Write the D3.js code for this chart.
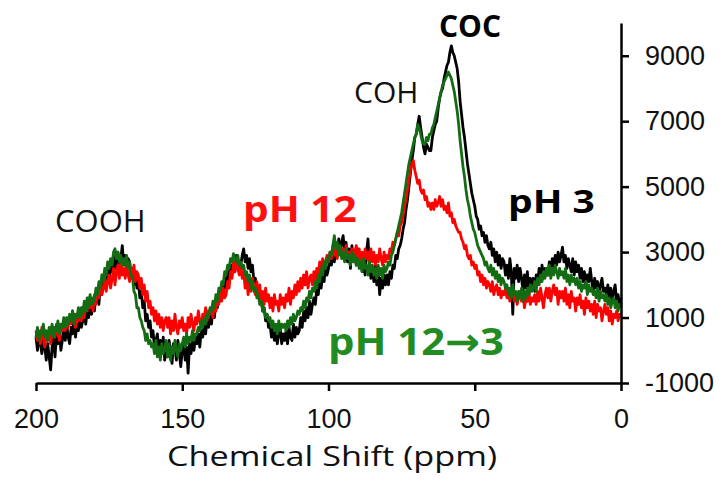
<!DOCTYPE html>
<html>
<head>
<meta charset="utf-8">
<script src="https://cdn.jsdelivr.net/npm/d3@7"></script>
<style>
  html, body { margin: 0; padding: 0; background: #fff; }
  svg { display: block; }
</style>
</head>
<body>
<svg id="chart" width="723" height="485"></svg>
<script>
// Chemical shift grid, 0.5 ppm steps from 200 down to 0 (401 points)
const shifts = d3.range(0, 401).map(i => 200 - i * 0.5);

// pH 3 spectrum intensity, one row per 5 ppm (200 → 0)
const pH3 = [
  400, 0, 500, 200, -100, 300, 100, -300, 200, -200,            // 200
  -600, 100, 400, -200, 500, 200, 600, 0, 300, 700,             // 195
  300, 800, 400, 200, 700, 500, 1000, 400, 800, 600,            // 190
  1100, 700, 900, 1300, 800, 1200, 1000, 1500, 1100, 1400,      // 185
  1200, 1800, 1600, 1400, 2000, 1700, 2300, 1900, 2100, 2500,   // 180
  2200, 2600, 2400, 2900, 2500, 2700, 3000, 2600, 2800, 3200,   // 175
  2600, 2900, 2400, 2800, 2700, 2300, 2500, 2000, 2400, 1900,   // 170
  2100, 1600, 1800, 1300, 1500, 900, 1100, 700, 900, 400,       // 165
  600, 100, 300, 500, -100, 300, 0, 400, -300, 200,             // 160
  -200, 300, 0, -400, 200, 100, -300, 300, -100, -500,          // 155
  0, 200, -300, 100, -700, 200, -100, 300, 0, 400,              // 150
  200, 500, 100, 600, 400, 800, 500, 1000, 700, 1100,           // 145
  800, 1300, 1000, 1500, 1300, 1700, 1500, 2000, 1700, 2200,    // 140
  1900, 2400, 2100, 2600, 2300, 2700, 2400, 2900, 2500, 2700,   // 135
  2600, 2900, 3100, 2700, 2900, 2500, 2800, 2400, 2600, 2100,   // 130
  2200, 1800, 1900, 1500, 1600, 1200, 1300, 900, 1100, 700,     // 125
  800, 400, 700, 300, 600, 200, 500, 700, 200, 500,             // 120
  300, 600, 200, 700, 400, 300, 800, 400, 700, 500,             // 115
  600, 1000, 700, 1200, 900, 1300, 1000, 1500, 1100, 1400,      // 110
  1600, 1400, 1900, 1700, 2200, 1900, 2400, 2100, 2600, 2300,   // 105
  2500, 2900, 2600, 3100, 2700, 3200, 2900, 3400, 3000, 3300,   // 100
  3500, 3000, 3300, 2700, 3100, 2500, 3200, 2800, 3000, 2600,   // 95
  3100, 2600, 2900, 2400, 2800, 2300, 3000, 3400, 2600, 2200,   // 90
  2500, 2100, 2600, 2000, 2400, 1700, 2200, 1900, 2300, 2000,   // 85
  2300, 2000, 2400, 2200, 2600, 2500, 2900, 2800, 3100, 3200,   // 80
  3400, 3700, 3900, 4300, 4600, 5000, 5400, 5800, 6100, 6500,   // 75
  6600, 6900, 7150, 6800, 6500, 6200, 6000, 6300, 6200, 6100,   // 70
  6100, 6500, 6700, 6900, 7000, 7400, 7700, 7900, 8000, 8300,   // 65
  8500, 8700, 8800, 9100, 9300, 9100, 9000, 8800, 8600, 8200,   // 60
  7600, 7200, 6800, 6500, 6100, 5700, 5400, 5100, 4800, 4600,   // 55
  4400, 4100, 4000, 3700, 3800, 3500, 3600, 3300, 3500, 3200,   // 50
  3100, 3300, 2900, 3100, 2700, 3000, 2600, 2900, 2500, 2800,   // 45
  2700, 2300, 2600, 2200, 2800, 2400, 1100, 2500, 2200, 2600,   // 40
  2100, 2500, 2200, 1800, 2300, 1900, 2400, 1700, 2200, 2000,   // 35
  2200, 1800, 2300, 2000, 2500, 2100, 2600, 2200, 2500, 2300,   // 30
  2300, 2700, 2400, 2800, 2500, 2900, 2600, 3000, 2700, 2900,   // 25
  3150, 2700, 2900, 2500, 2800, 2600, 2400, 2800, 2300, 2700,   // 20
  2400, 2600, 2200, 2500, 2100, 2400, 2000, 2300, 2100, 2500,   // 15
  2100, 1800, 2200, 1900, 2100, 1700, 2000, 2200, 1800, 1900,   // 10
  1700, 2000, 1600, 1900, 1500, 1800, 2000, 1500, 1700, 1400,   // 5
  1600                                                          // 0
];

// pH 12 spectrum intensity
const pH12 = [
  600, 300, 500, 200, 700, 400, 100, 500, 300, 600,             // 200
  200, 500, 700, 400, 800, 500, 300, 700, 600, 900,             // 195
  600, 900, 700, 1000, 800, 1200, 900, 700, 1100, 900,          // 190
  1200, 900, 1300, 1000, 1400, 1200, 1600, 1300, 1500, 1200,    // 185
  1700, 1400, 1800, 1600, 2000, 1700, 1900, 2200, 1800, 2100,   // 180
  2300, 1900, 2200, 2500, 2000, 2400, 2600, 2200, 2700, 2300,   // 175
  2500, 2200, 2600, 2300, 2100, 2500, 2200, 2600, 2100, 2400,   // 170
  2300, 1900, 2200, 1700, 2000, 1500, 1800, 1300, 1500, 1100,   // 165
  1300, 900, 1200, 800, 1100, 700, 1000, 600, 900, 1000,        // 160
  700, 1000, 500, 900, 600, 1100, 700, 500, 900, 700,           // 155
  1000, 600, 800, 500, 1000, 700, 1100, 800, 600, 1000,         // 150
  800, 1200, 900, 700, 1100, 1000, 1300, 900, 1200, 1100,       // 145
  1300, 1000, 1500, 1200, 1600, 1400, 1800, 1500, 1900, 1600,   // 140
  1700, 2100, 1900, 2400, 2200, 2700, 2400, 2800, 2500, 2300,   // 135
  2600, 2200, 2400, 1900, 2300, 1700, 2100, 1800, 2200, 1900,   // 130
  1700, 2100, 1600, 2000, 1500, 1800, 1400, 1900, 1500, 1700,   // 125
  1300, 1600, 1200, 1700, 1400, 1500, 1200, 1700, 1400, 1600,   // 120
  1300, 1700, 1500, 1900, 1400, 1800, 1600, 2000, 1700, 2100,   // 115
  1800, 2200, 1900, 2300, 2000, 2400, 1900, 2200, 2300, 2000,   // 110
  2400, 2100, 2500, 2300, 2700, 2400, 2800, 2500, 2700, 2900,   // 105
  2700, 3000, 2800, 3200, 2900, 3100, 2800, 3200, 3000, 2900,   // 100
  3100, 2800, 3200, 2900, 3000, 2700, 3100, 2800, 3000, 3200,   // 95
  2800, 3100, 2700, 3000, 2600, 3100, 2800, 3000, 2700, 3100,   // 90
  2700, 3000, 2600, 2900, 2700, 3100, 2800, 2600, 3000, 2700,   // 85
  2900, 2800, 3100, 3000, 3300, 3200, 3400, 3600, 3500, 3800,   // 80
  3900, 4100, 4400, 4600, 4900, 5200, 5500, 5700, 5800, 5500,   // 75
  5300, 5100, 5200, 4900, 4800, 4900, 4600, 4700, 4400, 4500,   // 70
  4300, 4500, 4300, 4600, 4400, 4500, 4700, 4400, 4600, 4300,   // 65
  4400, 4200, 4500, 4100, 4200, 3900, 4000, 3800, 3700, 3600,   // 60
  3600, 3400, 3300, 3100, 3200, 2900, 2800, 2900, 2600, 2700,   // 55
  2500, 2600, 2300, 2400, 2100, 2300, 2000, 2200, 1900, 2100,   // 50
  2000, 1800, 2100, 1700, 1900, 2000, 1700, 1900, 1600, 1800,   // 45
  1700, 1900, 1600, 1800, 1500, 1700, 1900, 1500, 1700, 1400,   // 40
  1600, 1800, 1500, 1700, 1300, 1600, 1500, 1800, 1400, 1600,   // 35
  1500, 1700, 1400, 1800, 1500, 1900, 1600, 1300, 1700, 1900,   // 30
  1600, 1900, 1500, 1800, 2000, 1700, 1900, 1400, 1800, 1600,   // 25
  1800, 1500, 1900, 1400, 1700, 1300, 1800, 1500, 1600, 1200,   // 20
  1600, 1400, 1700, 1300, 1500, 1100, 1600, 1300, 1500, 1200,   // 15
  1400, 1100, 1500, 1000, 1400, 1200, 1300, 900, 1200, 1400,    // 10
  1100, 1300, 900, 1200, 800, 1100, 1000, 1200, 900, 1100,      // 5
  1000                                                          // 0
];

// pH 12 → 3 spectrum intensity
const pH12to3 = [
  400, 700, 300, 600, 500, 800, 400, 600, 300, 700,             // 200
  500, 800, 400, 700, 600, 900, 500, 800, 700, 1000,            // 195
  700, 1000, 800, 1100, 900, 1200, 800, 1100, 1000, 1300,       // 190
  1000, 1300, 1100, 1500, 1200, 1600, 1300, 1700, 1400, 1600,   // 185
  1500, 1900, 1700, 2100, 1900, 2300, 2100, 2500, 2300, 2700,   // 180
  2500, 2800, 2600, 3000, 3100, 2800, 3000, 2700, 2900, 2600,   // 175
  2800, 2600, 2900, 2500, 2700, 2300, 2200, 1800, 1700, 1300,   // 170
  1300, 1000, 900, 700, 600, 300, 500, 200, 300, 100,           // 165
  200, -100, 300, -200, 100, -300, 200, -100, 0, 300,           // 160
  -200, 200, -300, 100, -100, 300, 0, -200, 200, 0,             // 155
  200, 400, 100, 500, 200, 400, 300, 600, 300, 500,             // 150
  500, 700, 600, 900, 700, 1000, 800, 1100, 1000, 1300,         // 145
  1200, 1500, 1300, 1700, 1500, 1900, 1800, 2100, 2000, 2400,   // 140
  2300, 2600, 2500, 2800, 2700, 2950, 2800, 2700, 2900, 2600,   // 135
  2700, 2500, 2600, 2300, 2400, 2100, 2300, 1900, 2100, 1800,   // 130
  1900, 1600, 1700, 1400, 1500, 1200, 1300, 1000, 1100, 900,    // 125
  1000, 700, 900, 600, 800, 500, 900, 600, 800, 700,            // 120
  800, 600, 900, 700, 1000, 800, 1100, 900, 1000, 1200,         // 115
  1100, 1300, 1200, 1500, 1300, 1600, 1500, 1800, 1600, 1900,   // 110
  1800, 2100, 1900, 2300, 2100, 2500, 2300, 2700, 2500, 2800,   // 105
  2700, 3000, 2900, 3200, 3500, 3100, 3300, 2900, 3200, 2800,   // 100
  3000, 2700, 3100, 2800, 2900, 2600, 3000, 2700, 2900, 2600,   // 95
  2800, 2500, 2700, 2400, 2800, 2500, 2600, 2300, 2700, 2400,   // 90
  2600, 2300, 2500, 2200, 2600, 2300, 2500, 2200, 2600, 2400,   // 85
  2500, 2700, 2600, 2900, 3000, 3200, 3400, 3600, 3800, 4000,   // 80
  4200, 4500, 4800, 5100, 5400, 5700, 5900, 6100, 6300, 6500,   // 75
  6600, 6900, 6800, 6600, 6400, 6300, 6300, 6500, 6400, 6600,   // 70
  6600, 6800, 6900, 7100, 7300, 7500, 7700, 7900, 8100, 8200,   // 65
  8300, 8400, 8500, 8400, 8300, 8100, 7900, 7600, 7300, 6900,   // 60
  6400, 6000, 5600, 5300, 4900, 4600, 4400, 4100, 3900, 3700,   // 55
  3600, 3400, 3200, 3100, 3000, 2900, 2800, 2600, 2700, 2500,   // 50
  2400, 2600, 2300, 2500, 2200, 2400, 2100, 2300, 2000, 2200,   // 45
  2100, 1900, 2000, 1700, 1900, 1600, 2000, 1700, 1800, 1500,   // 40
  1800, 1600, 1900, 1500, 1800, 1600, 1900, 1700, 2000, 1800,   // 35
  1900, 2100, 1800, 2200, 2000, 2300, 2100, 2400, 2200, 2500,   // 30
  2300, 2600, 2200, 2500, 2300, 2600, 2400, 2200, 2500, 2300,   // 25
  2400, 2200, 2500, 2100, 2300, 2000, 2300, 2100, 2200, 2000,   // 20
  2200, 1900, 2100, 1800, 2000, 1900, 2100, 1700, 2000, 1800,   // 15
  1900, 1700, 1800, 1600, 1900, 1500, 1800, 1600, 1700, 1500,   // 10
  1700, 1400, 1600, 1300, 1500, 1600, 1300, 1500, 1200, 1400,   // 5
  1300                                                          // 0
];

const xTicks = [200, 150, 100, 50, 0];
const yTicks = [-1000, 1000, 3000, 5000, 7000, 9000];

const svg = d3.select("#chart");

const x = d3.scaleLinear().domain([200, 0]).range([36, 621]);
const y = d3.scaleLinear().domain([-1000, 10000]).range([383, 23]);

const line = d3.line()
  .defined((d, i) => i < shifts.length && d != null)
  .x((d, i) => x(shifts[i]))
  .y(d => y(d));

// spectra: pH 3 underneath, then pH 12, then pH 12→3 on top
const series = [
  { values: pH3, color: "#000000" },
  { values: pH12, color: "#ff0000" },
  { values: pH12to3, color: "#136c13" }
];

svg.append("g")
  .selectAll("path")
  .data(series)
  .join("path")
  .attr("d", s => line(s.values))
  .attr("fill", "none")
  .attr("stroke", s => s.color)
  .attr("stroke-width", 2.8)
  .attr("stroke-linejoin", "round");

// axes
const axisFont = "'Liberation Sans', Arial, sans-serif";

const gx = svg.append("g")
  .attr("transform", `translate(0,${y(-1000)})`)
  .call(d3.axisBottom(x).tickValues(xTicks).tickSize(8).tickSizeOuter(0).tickPadding(18).tickFormat(d => String(d)));

const gy = svg.append("g")
  .attr("transform", `translate(${x(0)},0)`)
  .call(d3.axisRight(y).tickValues(yTicks).tickSize(8).tickSizeOuter(0).tickPadding(16).tickFormat(d => String(d)));

[gx, gy].forEach(g => {
  g.select(".domain").attr("stroke", "#000").attr("stroke-width", 2.5);
  g.selectAll(".tick line").attr("stroke", "#000").attr("stroke-width", 2.5);
  g.selectAll(".tick text")
    .attr("fill", "#111")
    .style("font-family", axisFont)
    .style("font-size", "27px");
});

// axis title
svg.append("text")
  .attr("x", 332)
  .attr("y", 466)
  .attr("text-anchor", "middle")
  .attr("textLength", 330)
  .attr("lengthAdjust", "spacingAndGlyphs")
  .style("font-family", "'Open Sans', 'Noto Sans', sans-serif")
  .style("font-size", "28px")
  .attr("fill", "#111")
  .text("Chemical Shift (ppm)");

// peak and sample annotations
const labels = [
  { text: "COOH", x: 55, y: 232, size: 31, weight: 400, color: "#111", sx: 1 },
  { text: "COH", x: 354, y: 103, size: 30, weight: 400, color: "#111", sx: 1 },
  { text: "COC", x: 439, y: 37, size: 30, weight: 700, color: "#000", sx: 1 },
  { text: "pH 12", x: 243, y: 222, size: 35, weight: 700, color: "#ff1010", sx: 1.16 },
  { text: "pH 3", x: 508, y: 213, size: 33, weight: 700, color: "#000", sx: 1.18 }
];

const font = "'Open Sans', 'Noto Sans', sans-serif";

svg.append("g")
  .selectAll("text")
  .data(labels)
  .join("text")
  .attr("transform", d => `translate(${d.x},${d.y}) scale(${d.sx},1)`)
  .style("font-family", font)
  .style("font-size", d => d.size + "px")
  .style("font-weight", d => d.weight)
  .attr("fill", d => d.color)
  .text(d => d.text);

// "pH 12→3" with a full-size arrow glyph
const mixed = svg.append("text")
  .attr("transform", "translate(328,355) scale(1.1,1)")
  .style("font-family", font)
  .style("font-size", "38px")
  .style("font-weight", 700)
  .attr("fill", "#228b22");
mixed.append("tspan").text("pH 12");
mixed.append("tspan").style("font-family", "'DejaVu Sans', sans-serif").text("→");
mixed.append("tspan").text("3");
</script>
</body>
</html>
